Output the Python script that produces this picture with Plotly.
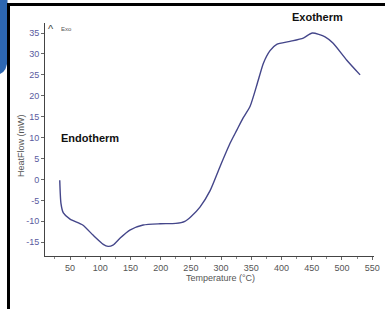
import plotly.graph_objects as go

# Data (Temperature in °C, Heat flow in mW)
temperature = [33, 35, 39, 50, 71, 88, 105, 113, 121, 133, 149, 171, 199, 225, 240,
               250, 265, 282, 298, 315, 326, 336, 348, 360, 370, 381, 392, 414, 436,
               451, 472, 485, 508, 530]
heatflow = [-0.2, -5.7, -8.0, -9.5, -10.9, -13.3, -15.5, -16.0, -15.7, -14.0, -12.1,
            -10.9, -10.6, -10.5, -10.0, -8.9, -6.6, -2.6, 3.0, 8.7, 11.8, 14.6, 17.5,
            23.0, 27.8, 30.8, 32.3, 33.0, 33.8, 35.0, 34.1, 32.6, 28.5, 25.0]

x_ticks = [50, 100, 150, 200, 250, 300, 350, 400, 450, 500, 550]
y_ticks = [35, 30, 25, 20, 15, 10, 5, 0, -5, -10, -15]
y_ticklabels = ["35", "30", "25", "20", "15", "10", "5", "0", "-5", "-10", "-15"]

W, H = 385, 309
L, R, T, B = 45, 11, 23, 53
PW, PH = W - L - R, H - T - B


def px(x):
    return (x - L) / PW


def py(y):
    return (H - B - y) / PH


fig = go.Figure()
fig.add_trace(go.Scatter(
    x=temperature, y=heatflow, mode="lines",
    line=dict(color="#44468a", width=1.4, shape="spline", smoothing=0.6),
    hoverinfo="skip", showlegend=False,
))

font = "Liberation Sans, Arial, sans-serif"

shapes = [
    # blue decorative corner
    dict(type="path", xref="paper", yref="paper", layer="above",
         path=(f"M {px(0)},{py(0)} L {px(7.5)},{py(0)} L {px(7.5)},{py(58)} "
               f"Q {px(7.5)},{py(71)} {px(0)},{py(74)} Z"),
         fillcolor="#2d67b2", line=dict(width=0)),
    # black frame (left and top)
    dict(type="line", xref="paper", yref="paper", layer="above",
         x0=px(8.5), x1=px(8.5), y0=py(3), y1=py(309),
         line=dict(color="black", width=3)),
    dict(type="line", xref="paper", yref="paper", layer="above",
         x0=px(7), x1=px(385), y0=py(4.5), y1=py(4.5),
         line=dict(color="black", width=3)),
]


def note(text, x, y, size, color="#555", angle=0, bold=False):
    return dict(text=f"<b>{text}</b>" if bold else text, xref="paper", yref="paper",
                x=px(x), y=py(y), xanchor="center", yanchor="middle",
                textangle=angle, showarrow=False,
                font=dict(family=font, size=size, color=color))


annotations = [
    note("Exotherm", 317, 17, 11, "#111", bold=True),
    note("Endotherm", 90, 138, 11, "#111", bold=True),
    note("^", 51, 29, 11, "#444"),
    note("Exo", 66, 29, 6, "#555"),
    note("HeatFlow (mW)", 21, 146, 9, "#555", angle=-90),
    note("Temperature (°C)", 220, 278, 9, "#555"),
]

fig.update_layout(
    width=W, height=H, autosize=False,
    margin=dict(l=L, r=R, t=T, b=B, pad=0, autoexpand=False),
    paper_bgcolor="white", plot_bgcolor="white",
    shapes=shapes, annotations=annotations,
    font=dict(family=font, size=9),
    xaxis=dict(range=[8.6, 553], tickvals=x_ticks, showgrid=False, zeroline=False,
               automargin=False,
               showline=True, linecolor="#444", linewidth=1,
               ticks="outside", ticklen=3, tickcolor="#666",
               minor=dict(ticks="outside", ticklen=2, tickcolor="#888", dtick=25,
                          tick0=0),
               tickfont=dict(family=font, size=9, color="#555")),
    yaxis=dict(range=[-18.3, 37.4], tickvals=y_ticks, ticktext=y_ticklabels,
               showgrid=False, zeroline=False, automargin=False,
               showline=True, linecolor="#444", linewidth=1,
               ticks="outside", ticklen=3, tickcolor="#666",
               tickfont=dict(family=font, size=9, color="#5a5a9e")),
)

fig.write_html("out.html", config={"responsive": False, "displayModeBar": False},
               post_script="document.body.style.margin='0';"
                           "document.documentElement.style.overflow='hidden';")
